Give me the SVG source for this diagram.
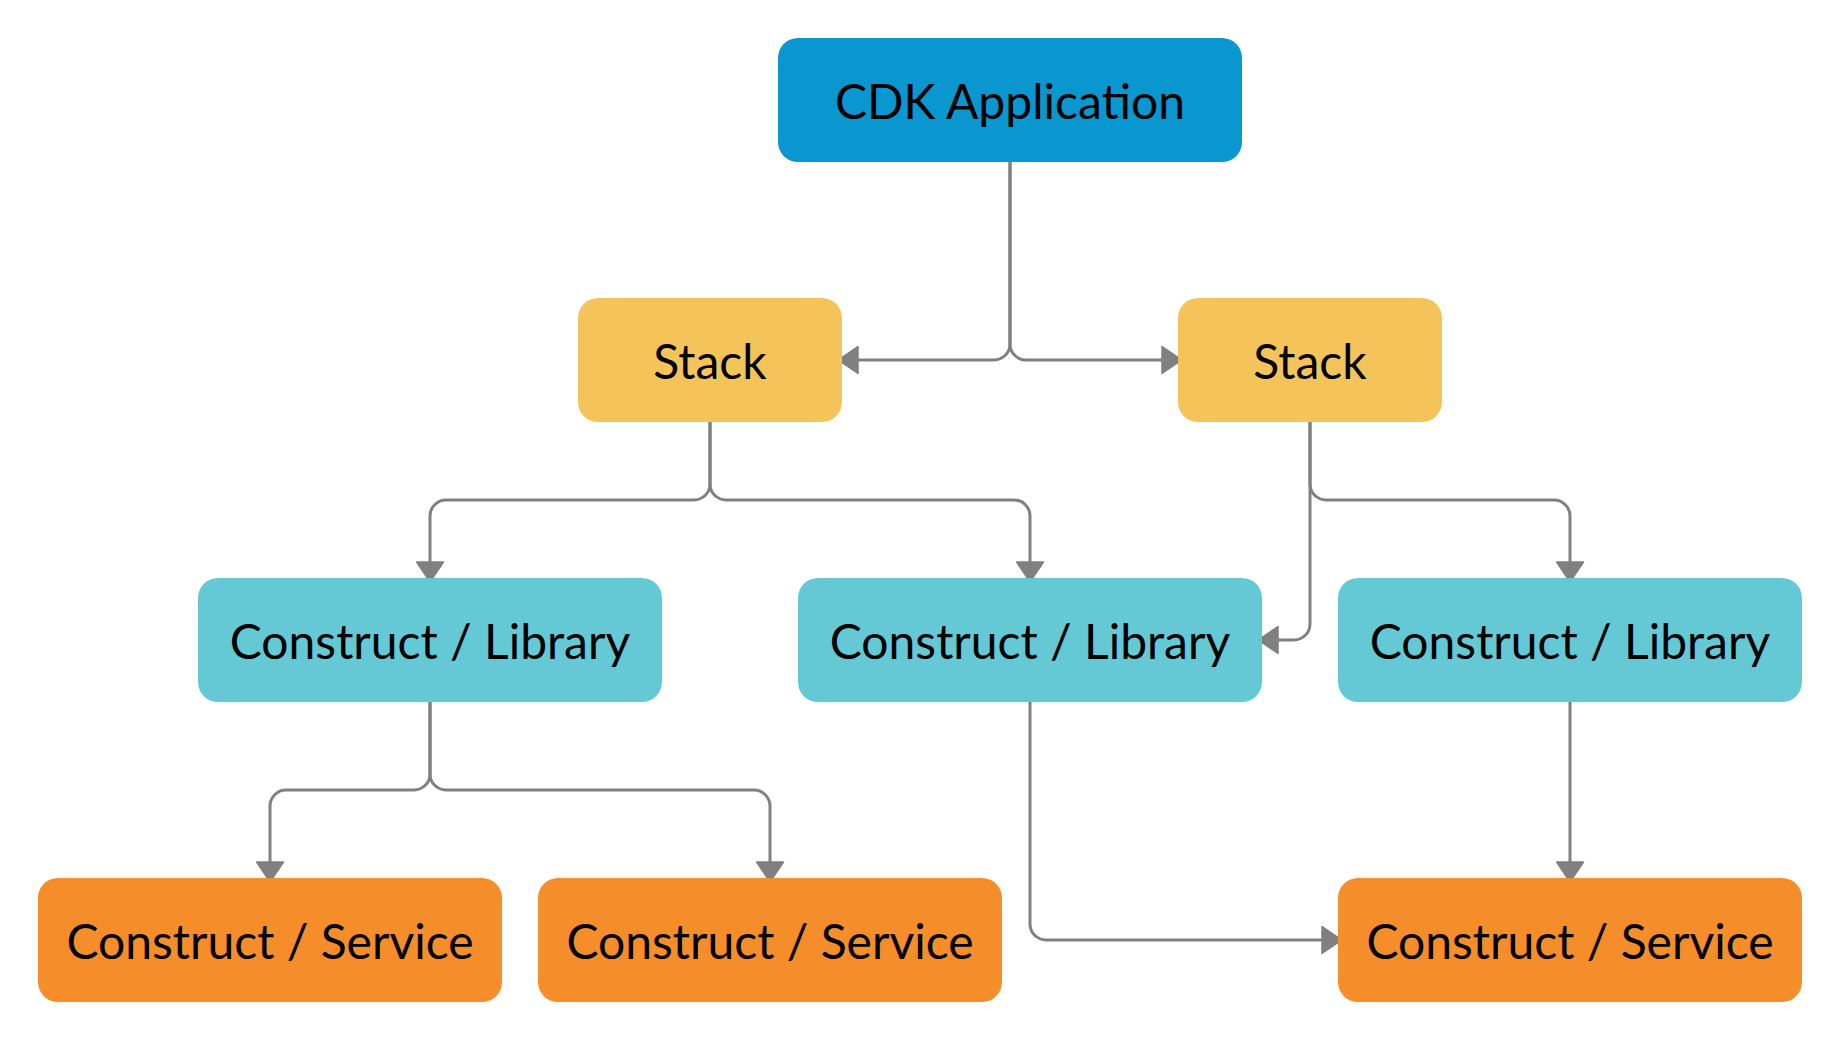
<svg xmlns="http://www.w3.org/2000/svg" width="1840" height="1040" viewBox="0 0 1840 1040">
  <style>
    .box { stroke: none; }
    .app { fill: #0A96CE; }
    .stack { fill: #F4C45A; }
    .lib { fill: #64C9D5; }
    .svc { fill: #F58D2B; }
    .lbl { font-family: Lato, "Liberation Sans", sans-serif; font-size: 48px; fill: #000; text-anchor: middle; }
    .conn { fill: none; stroke: #808080; stroke-width: 3; marker-end: url(#arr); }
  </style>
  <defs>
    <marker id="arr" markerUnits="userSpaceOnUse" markerWidth="22" markerHeight="29" viewBox="-1 -1 22 29" refX="17" refY="13.5" orient="auto">
      <path d="M0,0 L20,13.5 L0,27 Z" fill="#808080" stroke="#808080" stroke-width="1.5" stroke-linejoin="round"/>
    </marker>
  </defs>
  <rect width="1840" height="1040" fill="#ffffff"/>

  <g id="connectors">
    <path class="conn" d="M1010,158 V344 A16,16 0 0 1 994,360 H841"/>
    <path class="conn" d="M1010,158 V344 A16,16 0 0 0 1026,360 H1179"/>
    <path class="conn" d="M710,418 V484 A16,16 0 0 1 694,500 H446 A16,16 0 0 0 430,516 V579"/>
    <path class="conn" d="M710,418 V484 A16,16 0 0 0 726,500 H1014 A16,16 0 0 1 1030,516 V579"/>
    <path class="conn" d="M1310,418 V484 A16,16 0 0 0 1326,500 H1554 A16,16 0 0 1 1570,516 V579"/>
    <path class="conn" d="M1310,418 V624 A16,16 0 0 1 1294,640 H1261"/>
    <path class="conn" d="M430,698 V774 A16,16 0 0 1 414,790 H286 A16,16 0 0 0 270,806 V879"/>
    <path class="conn" d="M430,698 V774 A16,16 0 0 0 446,790 H754 A16,16 0 0 1 770,806 V879"/>
    <path class="conn" d="M1030,698 V924 A16,16 0 0 0 1046,940 H1339"/>
    <path class="conn" d="M1570,698 V879"/>
  </g>

  <g id="cdk-app">
    <rect class="box app" x="778" y="38" width="464" height="124" rx="20"/>
    <text class="lbl" x="1010" y="119">CDK Application</text>
  </g>
  <g id="stack-left">
    <rect class="box stack" x="578" y="298" width="264" height="124" rx="20"/>
    <text class="lbl" x="710" y="379">Stack</text>
  </g>
  <g id="stack-right">
    <rect class="box stack" x="1178" y="298" width="264" height="124" rx="20"/>
    <text class="lbl" x="1310" y="379">Stack</text>
  </g>
  <g id="library-1">
    <rect class="box lib" x="198" y="578" width="464" height="124" rx="20"/>
    <text class="lbl" x="430" y="659">Construct / Library</text>
  </g>
  <g id="library-2">
    <rect class="box lib" x="798" y="578" width="464" height="124" rx="20"/>
    <text class="lbl" x="1030" y="659">Construct / Library</text>
  </g>
  <g id="library-3">
    <rect class="box lib" x="1338" y="578" width="464" height="124" rx="20"/>
    <text class="lbl" x="1570" y="659">Construct / Library</text>
  </g>
  <g id="service-1">
    <rect class="box svc" x="38" y="878" width="464" height="124" rx="20"/>
    <text class="lbl" x="270" y="959">Construct / Service</text>
  </g>
  <g id="service-2">
    <rect class="box svc" x="538" y="878" width="464" height="124" rx="20"/>
    <text class="lbl" x="770" y="959">Construct / Service</text>
  </g>
  <g id="service-3">
    <rect class="box svc" x="1338" y="878" width="464" height="124" rx="20"/>
    <text class="lbl" x="1570" y="959">Construct / Service</text>
  </g>
</svg>
